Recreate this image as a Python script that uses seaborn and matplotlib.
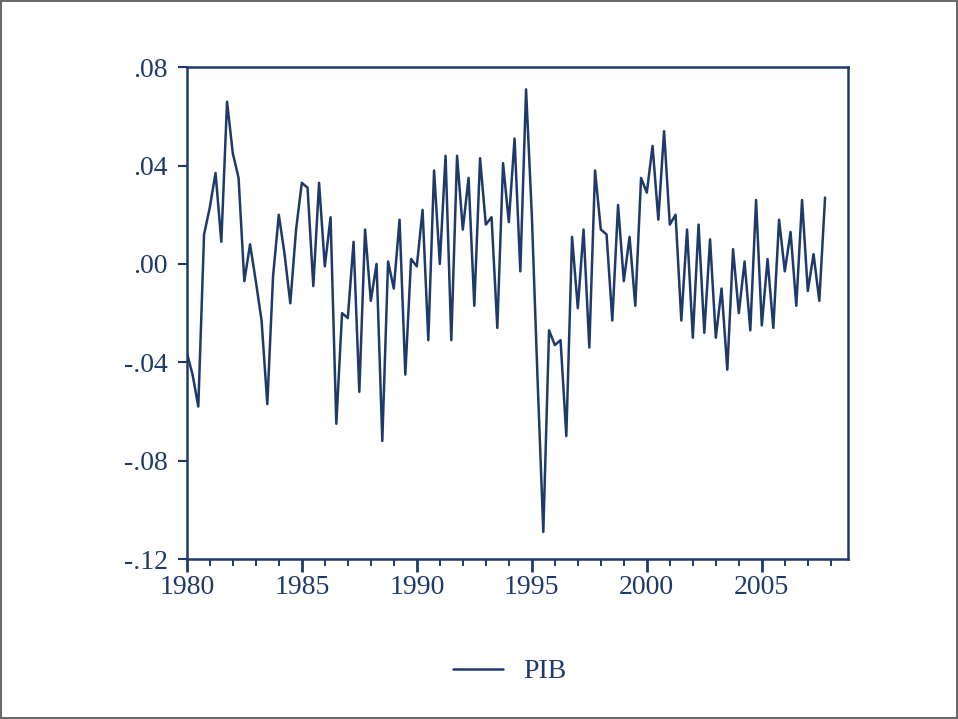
import numpy as np
import pandas as pd
import seaborn as sb
import matplotlib.pyplot as plt
from matplotlib.ticker import MultipleLocator, FuncFormatter

# quarterly series, 1980Q1 - 2007Q4
start_year = 1980
pib = [
    -0.036, -0.045, -0.058, 0.012, 0.023, 0.037, 0.009, 0.066,
    0.045, 0.035, -0.007, 0.008, -0.007, -0.023, -0.057, -0.005,
    0.020, 0.004, -0.016, 0.014, 0.033, 0.031, -0.009, 0.033,
    -0.001, 0.019, -0.065, -0.020, -0.022, 0.009, -0.052, 0.014,
    -0.015, 0.000, -0.072, 0.001, -0.010, 0.018, -0.045, 0.002,
    -0.001, 0.022, -0.031, 0.038, 0.000, 0.044, -0.031, 0.044,
    0.014, 0.035, -0.017, 0.043, 0.016, 0.019, -0.026, 0.041,
    0.017, 0.051, -0.003, 0.071, 0.020, -0.047, -0.109, -0.027,
    -0.033, -0.031, -0.070, 0.011, -0.018, 0.014, -0.034, 0.038,
    0.014, 0.012, -0.023, 0.024, -0.007, 0.011, -0.017, 0.035,
    0.029, 0.048, 0.018, 0.054, 0.016, 0.020, -0.023, 0.014,
    -0.030, 0.016, -0.028, 0.010, -0.030, -0.010, -0.043, 0.006,
    -0.020, 0.001, -0.027, 0.026, -0.025, 0.002, -0.026, 0.018,
    -0.003, 0.013, -0.017, 0.026, -0.011, 0.004, -0.015, 0.027,
]
x_ticks = [1980, 1985, 1990, 1995, 2000, 2005]
y_ticks = [-0.12, -0.08, -0.04, 0.00, 0.04, 0.08]

dframe = pd.DataFrame({
    "fecha": start_year + np.arange(len(pib)) / 4.0,
    "PIB": pib,
})

sb.set_style("white")
plt.rcParams['font.family'] = ['Liberation Serif', 'DejaVu Serif']
navy = "#1e3a6b"

fig = plt.figure(figsize=(9.58, 7.19), dpi=100)
fig.patch.set_edgecolor("#6a6a6a")
fig.patch.set_linewidth(1.5)
ax = fig.add_axes([0.195, 0.2225, 0.690, 0.684])

sb.lineplot(data=dframe, x="fecha", y="PIB", color=navy, linewidth=1.8,
            label="PIB", ax=ax, legend=False)

ax.set_xlim(1980, 2008.74)
ax.set_ylim(-0.12, 0.08)
ax.set_xticks(x_ticks)
ax.xaxis.set_minor_locator(MultipleLocator(1))
ax.set_yticks(y_ticks)
ax.yaxis.set_major_formatter(FuncFormatter(
    lambda v, p: ("-" if v < -1e-9 else "") + ("%.2f" % abs(v))[1:]))

for s in ax.spines.values():
    s.set_color(navy)
    s.set_linewidth(1.8)

ax.tick_params(axis="x", which="major", direction="out", length=9.5, width=2.0,
               color=navy, labelcolor=navy, labelsize=20, pad=2,
               bottom=True)
ax.tick_params(axis="x", which="minor", direction="out", length=5, width=1.4,
               color=navy, bottom=True)
ax.tick_params(axis="y", direction="out", length=6.5, width=1.5, color=navy,
               labelcolor=navy, labelsize=20, pad=7, left=True)
ax.set_xlabel("")
ax.set_ylabel("")

handles = [plt.Line2D([], [], color=navy, linewidth=1.8)]
fig.legend(handles, ["PIB"], loc="center", bbox_to_anchor=(0.532, 0.066),
           frameon=False, fontsize=20, handlelength=1.8, handletextpad=0.7,
           labelcolor=navy)

fig.savefig("out.png", dpi=100, facecolor="white", edgecolor=fig.get_edgecolor())
